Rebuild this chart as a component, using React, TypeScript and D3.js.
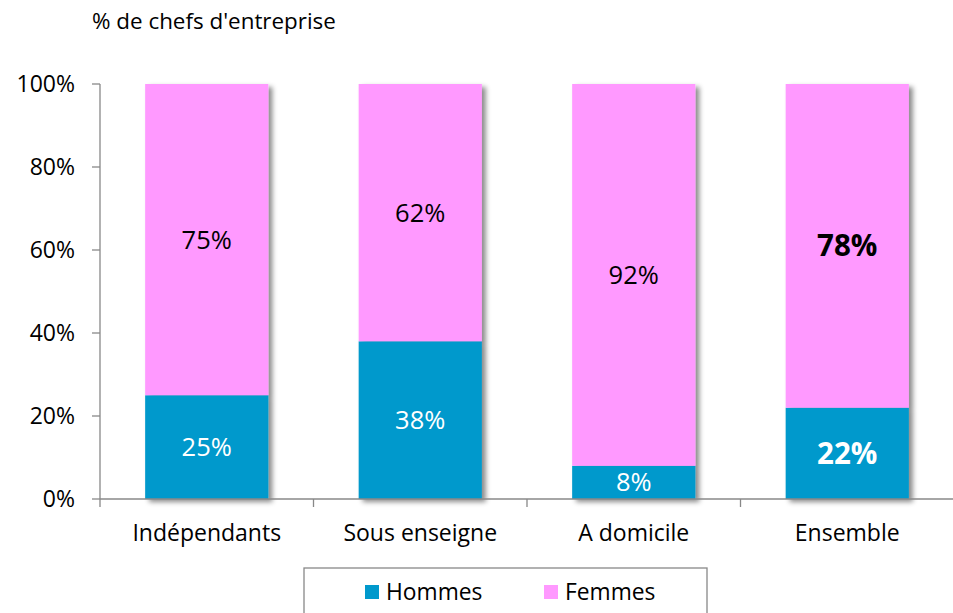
import React from "react";
import * as d3 from "d3";

const categories = ["Indépendants", "Sous enseigne", "A domicile", "Ensemble"];
const hommes = [25, 38, 8, 22];
const femmes = [75, 62, 92, 78];
const yTicks = [0, 20, 40, 60, 80, 100];
const seriesNames = ["Hommes", "Femmes"];
const colors = ["#0099CC", "#FF99FF"];
const boldCategory = "Ensemble";

export default function App() {
  const W = 953, H = 613;
  const left = 100, right = 954, top = 84, bottom = 499;
  const x = d3.scaleBand().domain(categories).range([left, right]).paddingInner(0.423).paddingOuter(0.2115);
  const y = d3.scaleLinear().domain([0, 100]).range([bottom, top]);
  const font = "'Open Sans', sans-serif";
  const rows = categories.map((c, i) => ({ c, h: hommes[i], f: femmes[i] }));
  const stack = d3.stack<any>().keys(["h", "f"])(rows);
  const bw = x.bandwidth();
  const step = x.step();
  return (
    <svg width={W} height={H} style={{ position: "absolute", left: 0, top: 0 }} fontFamily={font}>
      <defs>
        <filter id="sh" x="-10%" y="-10%" width="130%" height="130%">
          <feDropShadow dx="4" dy="3" stdDeviation="2.5" floodColor="#000" floodOpacity="0.45" />
        </filter>
      </defs>
      <rect width={W} height={H} fill="#fff" />
      <text x={92} y={29} fontSize={22.4} fill="#000">% de chefs d'entreprise</text>
      {rows.map((r, i) => (
        <g key={r.c} filter="url(#sh)">
          {stack.map((s, k) => (
            <rect key={k} x={x(r.c)} width={bw} y={y(s[i][1])} height={y(s[i][0]) - y(s[i][1])} fill={colors[k]} />
          ))}
        </g>
      ))}
      {rows.map((r, i) =>
        stack.map((s, k) => {
          const bold = r.c === boldCategory;
          const v = k === 0 ? r.h : r.f;
          return (
            <text key={r.c + k} x={x(r.c)! + bw / 2} y={y((s[i][0] + s[i][1]) / 2)} dy="0.35em"
              textAnchor="middle" fontSize={bold ? 29.5 : 25.5} fontWeight={bold ? "bold" : "normal"}
              fill={k === 0 ? "#fff" : "#000"}>{v}%</text>
          );
        })
      )}
      <line x1={left} x2={left} y1={top} y2={bottom + 8} stroke="#888" strokeWidth={1.3} />
      {yTicks.map(t => (
        <g key={t}>
          <line x1={left - 8} x2={left} y1={y(t)} y2={y(t)} stroke="#888" strokeWidth={1.3} />
          <text x={75} y={y(t)} dy="0.35em" textAnchor="end" fontSize={23} fill="#000">{t}%</text>
        </g>
      ))}
      <line x1={left} x2={right} y1={bottom} y2={bottom} stroke="#888" strokeWidth={1.3} />
      {categories.map((c, i) => (
        <g key={c}>
          <line x1={left + step * (i + 1)} x2={left + step * (i + 1)} y1={bottom} y2={bottom + 8} stroke="#888" strokeWidth={1.3} />
          <text x={x(c)! + bw / 2} y={533} dy="0.35em" textAnchor="middle" fontSize={23} fill="#000">{c}</text>
        </g>
      ))}
      <rect x={304} y={568} width={403} height={60} fill="#fff" stroke="#888" strokeWidth={1.3} />
      {seriesNames.map((n, i) => (
        <g key={n} transform={`translate(${365 + i * 179},585)`}>
          <rect width={14} height={14} fill={colors[i]} />
          <text x={21} y={7} dy="0.35em" fontSize={22.8} fill="#000">{n}</text>
        </g>
      ))}
    </svg>
  );
}
